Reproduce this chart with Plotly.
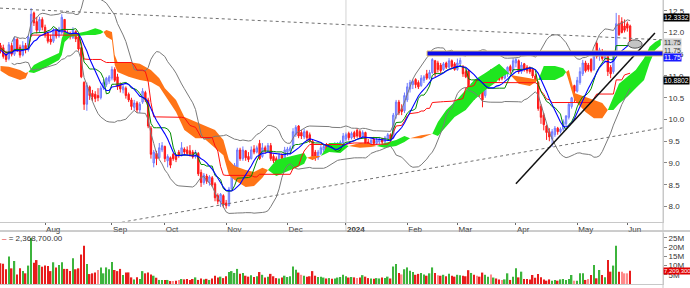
import numpy as np
import pandas as pd
import plotly.graph_objects as go

# ---------------- data (daily candles, price in thousand) ----------------
open_ = [11.70, 11.65, 11.50, 11.40, 11.70, 11.50, 11.84, 11.66, 11.48, 11.70,
         11.60, 11.92, 12.45, 12.25, 12.05, 12.30, 12.12, 11.98, 11.85, 11.80,
         12.05, 11.92, 12.00, 12.30, 12.00, 11.98, 11.88, 12.02, 11.90, 11.65,
         10.85, 10.35, 10.75, 10.60, 10.58, 10.55, 10.50, 10.72, 10.80, 10.88,
         10.95, 11.15, 10.98, 10.80, 10.68, 10.72, 10.58, 10.45, 10.28, 10.38,
         10.22, 10.40, 10.62, 10.45, 9.80, 9.00, 9.22, 9.12, 9.30, 9.38,
         9.05, 9.12, 9.20, 9.15, 9.25, 9.18, 9.32, 9.30, 9.28, 9.25,
         9.14, 9.22, 8.78, 8.55, 8.70, 8.55, 8.66, 8.52, 8.25, 8.10,
         8.25, 8.08, 8.02, 8.40, 8.72, 8.90, 9.30, 9.10, 9.28, 9.15,
         9.10, 9.32, 9.25, 9.45, 9.15, 9.35, 9.28, 9.40, 9.15, 9.10,
         9.05, 9.18, 9.10, 9.25, 9.28, 9.35, 9.65, 9.85, 9.70, 9.60,
         9.72, 9.65, 9.50, 9.25, 9.12, 9.22, 9.30, 9.40, 9.30, 9.40,
         9.32, 9.38, 9.42, 9.46, 9.55, 9.68, 9.58, 9.70, 9.75, 9.72,
         9.60, 9.70, 9.48, 9.42, 9.55, 9.45, 9.48, 9.55, 9.48, 9.55,
         9.65, 9.58, 10.10, 10.40, 10.25, 10.20, 10.45, 10.70, 10.80, 10.92,
         10.85, 10.78, 10.90, 11.05, 10.95, 11.08, 11.35, 11.30, 11.25, 11.15,
         11.30, 11.20, 11.35, 11.28, 11.15, 11.28, 11.22, 11.10, 11.12, 10.55,
         10.80, 10.78, 10.70, 10.72, 10.55, 10.80, 11.12, 10.95, 11.05, 11.00,
         11.00, 10.95, 11.05, 11.22, 11.12, 11.30, 11.35, 11.10, 11.28, 11.20,
         11.18, 11.15, 11.00, 10.85, 10.30, 10.10, 9.85, 9.72, 9.55, 9.65,
         9.80, 9.72, 9.78, 9.90, 10.05, 10.30, 10.78, 10.65, 10.85, 11.05,
         11.30, 11.25, 11.38, 11.15, 11.75, 11.45, 11.55, 11.40, 11.45, 11.20,
         11.10, 11.50, 12.20, 12.25, 12.15, 12.20, 12.15]
high = [11.76, 11.72, 11.58, 11.78, 11.76, 11.90, 11.88, 11.72, 11.80, 11.76,
        11.95, 12.56, 12.48, 12.36, 12.36, 12.35, 12.18, 12.02, 11.95, 12.10,
        12.10, 12.13, 12.42, 12.30, 12.05, 12.02, 12.12, 12.05, 11.95, 11.68,
        10.88, 10.85, 10.78, 10.68, 10.65, 10.72, 10.78, 10.92, 10.98, 11.02,
        11.22, 11.20, 11.05, 10.85, 10.80, 10.76, 10.62, 10.50, 10.45, 10.42,
        10.40, 10.72, 10.66, 10.50, 9.85, 9.30, 9.28, 9.46, 9.48, 9.40,
        9.20, 9.15, 9.23, 9.20, 9.30, 9.48, 9.36, 9.38, 9.41, 9.30,
        9.30, 9.25, 8.85, 8.77, 8.75, 8.72, 8.70, 8.56, 8.30, 8.31,
        8.28, 8.15, 8.45, 8.77, 9.00, 9.35, 9.35, 9.38, 9.30, 9.25,
        9.38, 9.41, 9.40, 9.53, 9.46, 9.40, 9.46, 9.46, 9.20, 9.15,
        9.23, 9.22, 9.37, 9.37, 9.40, 9.80, 9.87, 9.87, 9.76, 9.78,
        9.75, 9.70, 9.53, 9.30, 9.30, 9.41, 9.41, 9.46, 9.46, 9.44,
        9.48, 9.48, 9.52, 9.69, 9.70, 9.72, 9.72, 9.74, 9.80, 9.76,
        9.75, 9.72, 9.55, 9.58, 9.60, 9.58, 9.60, 9.58, 9.62, 9.69,
        9.68, 10.15, 10.45, 10.45, 10.35, 10.62, 10.84, 10.91, 10.92, 10.95,
        10.90, 11.02, 11.02, 11.14, 11.14, 11.41, 11.37, 11.35, 11.30, 11.32,
        11.33, 11.41, 11.38, 11.32, 11.40, 11.42, 11.25, 11.15, 11.14, 10.84,
        10.82, 10.84, 10.75, 10.75, 10.88, 10.91, 11.16, 11.10, 11.08, 11.05,
        11.05, 11.16, 11.22, 11.26, 11.41, 11.41, 11.38, 11.32, 11.30, 11.25,
        11.22, 11.18, 11.05, 10.88, 10.35, 10.15, 9.88, 9.80, 9.78, 9.85,
        9.83, 9.82, 10.00, 10.10, 10.40, 10.52, 10.80, 10.98, 11.20, 11.37,
        11.35, 11.30, 11.41, 11.60, 11.80, 11.65, 11.62, 11.58, 11.48, 11.25,
        11.55, 12.45, 12.40, 12.35, 12.30, 12.25, 12.18]
low = [11.52, 11.40, 11.32, 11.36, 11.45, 11.46, 11.55, 11.42, 11.45, 11.52,
       11.56, 11.90, 12.15, 11.98, 12.00, 12.05, 11.88, 11.75, 11.72, 11.76,
       11.86, 11.88, 11.95, 11.90, 11.85, 11.84, 11.85, 11.78, 11.58, 10.95,
       10.22, 10.20, 10.45, 10.42, 10.40, 10.42, 10.46, 10.68, 10.75, 10.82,
       10.90, 10.86, 10.68, 10.62, 10.60, 10.48, 10.40, 10.22, 10.20, 10.15,
       10.15, 10.36, 10.40, 9.80, 9.10, 8.90, 8.95, 9.10, 9.25, 9.02,
       8.90, 8.88, 9.05, 9.02, 9.12, 9.15, 9.20, 9.18, 9.15, 9.10,
       9.10, 8.70, 8.45, 8.50, 8.52, 8.48, 8.45, 8.12, 8.05, 7.99,
       7.97, 7.95, 8.00, 8.38, 8.68, 8.84, 9.05, 9.05, 9.05, 9.02,
       9.08, 9.20, 9.22, 9.07, 9.12, 9.22, 9.25, 9.05, 9.00, 8.98,
       9.02, 9.05, 9.08, 9.16, 9.20, 9.32, 9.60, 9.57, 9.55, 9.55,
       9.50, 9.46, 9.07, 9.05, 9.07, 9.18, 9.25, 9.25, 9.26, 9.28,
       9.30, 9.32, 9.36, 9.44, 9.50, 9.52, 9.54, 9.55, 9.58, 9.57,
       9.58, 9.37, 9.37, 9.40, 9.41, 9.41, 9.43, 9.43, 9.45, 9.50,
       9.50, 9.55, 10.02, 10.10, 10.10, 10.15, 10.40, 10.62, 10.70, 10.72,
       10.70, 10.75, 10.84, 10.91, 10.92, 11.05, 10.98, 11.08, 11.07, 11.12,
       11.16, 11.18, 11.18, 11.12, 11.12, 11.25, 10.98, 10.95, 10.45, 10.40,
       10.45, 10.55, 10.52, 10.28, 10.50, 10.75, 10.90, 10.90, 10.91, 10.88,
       10.90, 10.92, 10.98, 11.05, 11.08, 11.20, 11.05, 11.05, 11.10, 11.06,
       11.05, 10.95, 10.85, 10.20, 9.90, 9.75, 9.53, 9.50, 9.37, 9.60,
       9.65, 9.68, 9.74, 9.85, 10.00, 10.25, 10.40, 10.62, 10.80, 11.00,
       11.08, 11.10, 11.08, 11.12, 11.40, 11.35, 11.35, 11.32, 11.00, 10.95,
       11.05, 11.48, 11.92, 11.98, 12.00, 12.02, 11.72]
close = [11.60, 11.45, 11.38, 11.72, 11.50, 11.85, 11.62, 11.48, 11.70, 11.60,
         11.90, 12.42, 12.22, 12.05, 12.30, 12.12, 11.95, 11.80, 11.78, 12.05,
         11.92, 12.08, 12.35, 11.95, 11.92, 11.90, 12.05, 11.85, 11.62, 10.98,
         10.35, 10.78, 10.55, 10.52, 10.48, 10.50, 10.72, 10.85, 10.95, 10.98,
         11.15, 10.90, 10.75, 10.70, 10.75, 10.55, 10.45, 10.30, 10.38, 10.22,
         10.35, 10.65, 10.45, 9.85, 9.20, 9.25, 9.10, 9.35, 9.40, 9.10,
         9.15, 8.95, 9.10, 9.08, 9.18, 9.35, 9.25, 9.22, 9.20, 9.14,
         9.25, 8.75, 8.55, 8.72, 8.58, 8.68, 8.50, 8.20, 8.12, 8.28,
         8.05, 8.02, 8.40, 8.72, 8.95, 9.30, 9.10, 9.30, 9.12, 9.08,
         9.30, 9.25, 9.35, 9.10, 9.35, 9.28, 9.40, 9.10, 9.05, 9.02,
         9.18, 9.10, 9.30, 9.32, 9.35, 9.72, 9.82, 9.62, 9.62, 9.72,
         9.58, 9.50, 9.15, 9.12, 9.25, 9.35, 9.38, 9.30, 9.40, 9.32,
         9.42, 9.45, 9.48, 9.62, 9.65, 9.58, 9.68, 9.60, 9.62, 9.60,
         9.70, 9.42, 9.40, 9.52, 9.45, 9.52, 9.55, 9.48, 9.58, 9.65,
         9.55, 10.10, 10.40, 10.15, 10.18, 10.55, 10.75, 10.85, 10.88, 10.80,
         10.75, 10.95, 10.98, 10.95, 11.08, 11.38, 11.05, 11.15, 11.12, 11.28,
         11.20, 11.35, 11.22, 11.15, 11.30, 11.36, 11.05, 10.98, 10.55, 10.75,
         10.60, 10.62, 10.60, 10.45, 10.82, 10.88, 10.95, 11.05, 10.95, 10.92,
         10.95, 11.10, 11.20, 11.12, 11.35, 11.38, 11.10, 11.25, 11.15, 11.12,
         11.10, 11.00, 10.90, 10.25, 10.05, 9.88, 9.70, 9.60, 9.72, 9.80,
         9.72, 9.78, 9.95, 10.08, 10.35, 10.50, 10.65, 10.90, 11.10, 11.30,
         11.12, 11.15, 11.12, 11.55, 11.45, 11.60, 11.40, 11.52, 11.10, 11.05,
         11.50, 12.20, 11.95, 12.00, 12.05, 12.10, 11.75]
volume_m = [11.2, 11.0, 8.0, 14.9, 8.5, 12.5, 5.2, 8.5, 7.0, 5.8,
            10.0, 25.0, 11.6, 13.0, 10.3, 9.4, 10.0, 9.8, 7.0, 11.8,
            9.0, 10.3, 11.8, 8.2, 8.2, 7.0, 14.0, 8.0, 8.5, 16.0,
            20.8, 10.9, 5.4, 5.8, 6.3, 7.6, 9.0, 5.8, 9.0, 8.0,
            12.0, 7.6, 7.0, 8.2, 4.9, 6.3, 6.3, 3.6, 2.5, 3.6,
            2.7, 7.0, 5.8, 6.2, 5.2, 4.5, 3.4, 2.2, 2.2, 2.2,
            2.2, 1.6, 1.6, 1.8, 2.2, 2.7, 2.5, 2.7, 2.2, 2.7,
            3.6, 2.2, 3.0, 2.5, 2.8, 2.2, 3.0, 4.5, 3.5, 4.0,
            3.2, 4.2, 6.5, 7.0, 6.0, 8.2, 5.5, 6.0, 4.5, 4.0,
            4.8, 3.8, 4.2, 6.5, 5.0, 3.5, 4.0, 5.5, 4.2, 3.2,
            3.0, 3.5, 4.5, 3.8, 4.2, 9.5, 7.8, 6.2, 5.0, 4.5,
            4.0, 4.2, 7.0, 4.5, 3.8, 4.0, 3.5, 3.0, 3.2, 2.8,
            3.0, 3.5, 3.8, 5.0, 4.2, 3.5, 3.8, 3.6, 3.2, 3.5,
            4.8, 4.0, 3.2, 3.0, 2.8, 3.2, 3.0, 3.5, 3.3, 4.0,
            3.0, 9.5, 10.8, 6.0, 5.2, 8.0, 9.0, 7.2, 6.5, 5.0,
            5.5, 6.0, 5.2, 4.5, 5.8, 9.0, 6.0, 4.8, 4.5, 5.0,
            4.2, 5.5, 4.5, 4.0, 5.0, 4.8, 4.5, 4.2, 7.5, 6.0,
            5.0, 4.5, 4.0, 6.2, 5.0, 4.0, 5.2, 3.5, 3.0, 2.5,
            2.2, 2.5, 5.8, 2.2, 4.0, 8.5, 3.6, 6.7, 2.7, 2.7,
            2.5, 4.9, 3.4, 5.4, 3.6, 2.5, 1.8, 2.5, 1.8, 2.2,
            1.8, 2.5, 2.7, 2.2, 2.7, 4.9, 1.8, 1.8, 5.8, 5.8,
            2.2, 2.7, 4.9, 10.3, 3.1, 7.6, 4.9, 3.6, 13.0, 6.7,
            10.0, 20.8, 6.7, 6.7, 5.8, 5.8, 7.2]

# month ticks (trading-day index of first session of each month)
month_tick_day = [16, 40, 59, 81, 103, 124, 146, 164, 185, 207, 225]
month_tick_text = ["Aug", "Sep", "Oct", "Nov", "Dec", "<b>2024</b>", "Feb", "Mar", "Apr", "May", "Jun"]

# cloud (leading spans)
cloud_day = [0, 3, 7, 9, 10, 12, 14, 17, 19, 21, 22, 23, 25, 28, 31, 34, 36, 37, 38, 40,
             41, 42, 46, 50, 54, 57, 59, 63, 66, 70, 73, 77, 80, 82, 84, 88, 91, 94, 96, 99,
             102, 106, 109, 110, 112, 115, 118, 122, 125, 129, 133, 135, 138, 142, 145, 147, 151, 155, 157, 160,
             163, 167, 170, 174, 178, 179, 182, 183, 186, 190, 193, 195, 199, 202, 203, 204, 206, 210, 213, 216,
             218, 220, 222, 225, 228, 231, 233, 235, 237]
cloud_span_a = [11.12, 11.00, 10.91, 10.95, 11.09, 11.25, 11.32, 11.41, 11.48, 11.53,
                11.87, 12.01, 11.99, 11.99, 12.03, 12.10, 12.06, 12.01, 11.90, 11.83,
                11.25, 11.09, 10.98, 10.91, 10.86, 10.75, 10.56, 10.17, 9.76, 9.57,
                9.57, 9.35, 9.18, 8.72, 8.61, 8.45, 8.47, 8.66, 8.84, 9.07,
                9.12, 9.18, 9.23, 9.12, 9.07, 9.16, 9.46, 9.46, 9.39, 9.35,
                9.37, 9.39, 9.46, 9.53, 9.62, 9.57, 9.57, 9.67, 9.94, 10.22,
                10.40, 10.68, 10.91, 11.07, 11.23, 11.28, 11.09, 11.02, 10.82, 10.77,
                10.91, 11.23, 11.23, 11.18, 11.09, 10.86, 10.45, 10.17, 10.03, 10.03,
                10.22, 10.52, 10.82, 10.98, 11.14, 11.41, 11.67, 11.78, 11.85]
cloud_span_b = [11.23, 11.21, 11.14, 11.07, 11.09, 11.07, 11.12, 11.23, 11.30, 11.37,
                11.48, 11.78, 11.90, 11.92, 11.94, 11.94, 11.97, 12.01, 12.06, 12.01,
                11.48, 11.32, 11.32, 11.28, 11.14, 10.95, 10.72, 10.45, 10.06, 9.94,
                9.87, 9.76, 9.53, 9.07, 8.93, 8.84, 8.79, 8.89, 8.84, 8.70,
                8.79, 8.89, 8.98, 9.12, 9.16, 9.16, 9.25, 9.23, 9.39, 9.46,
                9.44, 9.39, 9.35, 9.39, 9.48, 9.57, 9.64, 9.67, 9.62, 9.83,
                10.06, 10.22, 10.45, 10.68, 10.86, 10.95, 11.05, 11.02, 11.00, 10.95,
                10.91, 10.91, 10.91, 11.00, 11.09, 11.14, 10.61, 10.52, 10.45, 10.38,
                10.22, 10.22, 10.36, 10.52, 10.72, 10.91, 11.30, 11.60, 11.71]

# hand-drawn studies (day index, price)
resistance_day = [-0.18, 237.8]
resistance_px = [12.56, 11.83]
support_day = [39.3, 237.8]
support_px = [7.59, 9.81]
uptrend_day = [185.0, 234.9]
uptrend_px = [8.52, 11.99]
zone_day = [153.1, 237.8]
zone_px = [11.46, 11.575]
mark_day = [225.2, 230.3]
mark_px = [11.64, 11.83]

# ---------------- indicators ----------------
n = len(close)
day = list(range(n))
df = pd.DataFrame({"o": open_, "h": high, "l": low, "c": close})
ma10 = df.c.rolling(10, min_periods=1).mean()
tenkan = (df.h.rolling(9, min_periods=1).max() + df.l.rolling(9, min_periods=1).min()) / 2
kijun = (df.h.rolling(26, min_periods=1).max() + df.l.rolling(26, min_periods=1).min()) / 2
mid = df.c.rolling(20, min_periods=5).mean()
sd = df.c.rolling(20, min_periods=5).std(ddof=0)
bb_up = mid + 2 * sd
bb_lo = mid - 2 * sd

GREEN = "#1fe61f"
ORANGE = "#ff7417"

fig = go.Figure()

# cloud runs
def seg_color(k):
    return GREEN if (cloud_span_a[k] + cloud_span_a[k + 1]) >= (cloud_span_b[k] + cloud_span_b[k + 1]) else ORANGE

runs = []
start = 0
cur = seg_color(0)
for k in range(1, len(cloud_day) - 1):
    c = seg_color(k)
    if c != cur:
        runs.append((start, k, cur))
        start = k
        cur = c
runs.append((start, len(cloud_day) - 1, cur))
for s, e, col in runs:
    xs = cloud_day[s:e + 1]
    ya = cloud_span_a[s:e + 1]
    yb = cloud_span_b[s:e + 1]
    fig.add_trace(go.Scatter(x=xs + xs[::-1], y=ya + yb[::-1], fill="toself", fillcolor=col,
                             mode="lines", line=dict(width=0, color=col), hoverinfo="skip",
                             showlegend=False, xaxis="x", yaxis="y"))

# bollinger
for band in (bb_up, bb_lo):
    fig.add_trace(go.Scatter(x=day, y=band, mode="lines", line=dict(color="#7a7a7a", width=1),
                             showlegend=False, xaxis="x", yaxis="y"))

fig.add_trace(go.Candlestick(x=day, open=open_, high=high, low=low, close=close,
                             increasing=dict(line=dict(color="#6f7bff", width=1), fillcolor="#aeb6ff"),
                             decreasing=dict(line=dict(color="#ff1a1a", width=1), fillcolor="#ff1a1a"),
                             whiskerwidth=0, showlegend=False, xaxis="x", yaxis="y"))

fig.add_trace(go.Scatter(x=day, y=kijun, mode="lines", line=dict(color="#ff1010", width=1),
                         showlegend=False, xaxis="x", yaxis="y"))
fig.add_trace(go.Scatter(x=day, y=tenkan, mode="lines", line=dict(color="#008a00", width=1),
                         showlegend=False, xaxis="x", yaxis="y"))
fig.add_trace(go.Scatter(x=day, y=ma10, mode="lines", line=dict(color="#0000ff", width=1.1),
                         showlegend=False, xaxis="x", yaxis="y"))

# trend lines
fig.add_trace(go.Scatter(x=resistance_day, y=resistance_px, mode="lines",
                         line=dict(color="#707070", width=1, dash="dot"), showlegend=False, xaxis="x", yaxis="y"))
fig.add_trace(go.Scatter(x=support_day, y=support_px, mode="lines",
                         line=dict(color="#707070", width=1, dash="dot"), showlegend=False, xaxis="x", yaxis="y"))
fig.add_trace(go.Scatter(x=uptrend_day, y=uptrend_px, mode="lines",
                         line=dict(color="#111111", width=1.5), showlegend=False, xaxis="x", yaxis="y"))

# volume
vol_colors = []
for i in range(n):
    up = close[i] >= open_[i]
    prev = close[i - 1] if i > 0 else open_[i]
    if up:
        vol_colors.append("#3cb43c" if close[i] >= prev else "#8fd88f")
    else:
        vol_colors.append("#e81c1c" if close[i] < prev else "#ff8a8a")
fig.add_trace(go.Bar(x=day, y=volume_m, marker=dict(color=vol_colors, line=dict(width=0)), width=0.55,
                     showlegend=False, xaxis="x2", yaxis="y2"))

XR = [-0.18, 237.8]
FULLW = 690 / 663          # paper units spanning to the figure's right edge
FONT = dict(family="Liberation Sans, Arial, sans-serif", size=8, color="#333333")

price_ticks = [8.0, 8.5, 9.0, 9.5, 10.0, 10.5, 11.0, 11.5, 12.0, 12.5]
vol_ticks = [5, 10, 15, 20, 25]

fig.update_layout(
    width=690, height=288, margin=dict(l=0, r=27, t=0, b=0),
    paper_bgcolor="white", plot_bgcolor="white", showlegend=False, font=FONT,
    xaxis=dict(domain=[0, 1], range=XR, anchor="y", tickvals=month_tick_day, ticktext=month_tick_text,
               ticks="outside", ticklen=2, tickcolor="#666", ticklabelposition="outside right",
               tickfont=FONT, showgrid=False, zeroline=False, showline=True, linecolor="#c8c8c8",
               rangeslider=dict(visible=False)),
    yaxis=dict(domain=[0.2302, 1], range=[7.65, 12.747], side="right", anchor="x",
               tickvals=price_ticks, ticktext=[f"{v:.1f}" for v in price_ticks],
               ticks="outside", ticklen=3, tickcolor="#888", tickfont=FONT,
               showgrid=False, zeroline=False, showline=True, linecolor="#c8c8c8"),
    xaxis2=dict(domain=[0, 1], range=XR, anchor="y2", showticklabels=False, ticks="",
                showgrid=False, zeroline=False, showline=True, linecolor="#c8c8c8"),
    yaxis2=dict(domain=[0.0139, 0.191], range=[0, 27.7], side="right", anchor="x2",
                tickvals=vol_ticks, ticktext=[f"{v}M" for v in vol_ticks],
                ticks="outside", ticklen=3, tickcolor="#888", tickfont=FONT,
                showgrid=False, zeroline=False, showline=True, linecolor="#c8c8c8"),
)

shapes = [
    dict(type="line", xref="paper", yref="paper", x0=0, x1=FULLW, y0=(288 - 231) / 288, y1=(288 - 231) / 288,
         line=dict(color="#9a9a9a", width=1)),
    dict(type="line", xref="paper", yref="paper", x0=1, x1=1, y0=0, y1=1,
         line=dict(color="#c8c8c8", width=1)),
    dict(type="line", xref="x", yref="paper", x0=124, x1=124, y0=(288 - 231) / 288, y1=1,
         line=dict(color="#d4d4d4", width=1), layer="below"),
    dict(type="rect", xref="x", yref="y", x0=zone_day[0], x1=zone_day[1], y0=zone_px[0], y1=zone_px[1],
         fillcolor="#0a0aee", line=dict(color="#e6c46a", width=1), layer="above"),
    dict(type="circle", xref="x", yref="y", x0=mark_day[0], x1=mark_day[1], y0=mark_px[0], y1=mark_px[1],
         fillcolor="#c4c4c4", line=dict(color="#555555", width=1), layer="above"),
]
fig.update_layout(shapes=shapes)

def tag(y, text, bg, fg, yref="y", size=7):
    return dict(x=1, xref="paper", y=y, yref=yref, text=text, showarrow=False, xanchor="left",
                xshift=0, yanchor="middle", bgcolor=bg, borderpad=0,
                font=dict(family=FONT["family"], size=size, color=fg))

annotations = [
    tag(12.356, "12.3332", "#000000", "#ffffff", size=6.8),
    tag(11.775, "11.75", "#d0d0d0", "#333333"),
    tag(11.595, "11.75", "#e2e2e2", "#333333"),
    tag(11.415, "11.75", "#1a1aff", "#ffffff"),
    tag(10.885, "10.8802", "#000000", "#ffffff", size=6.8),
    tag(6.8, "7,209,300", "#e00000", "#ffffff", yref="y2", size=6),
    dict(x=0, xref="paper", y=(288 - 238) / 288, yref="paper", xanchor="left", yanchor="middle",
         text="<span style='color:#e00000'>–</span> = 2,368,700.00", showarrow=False,
         font=dict(family=FONT["family"], size=8, color="#333333")),
]
fig.update_layout(annotations=annotations)

fig.write_html("out.html")
